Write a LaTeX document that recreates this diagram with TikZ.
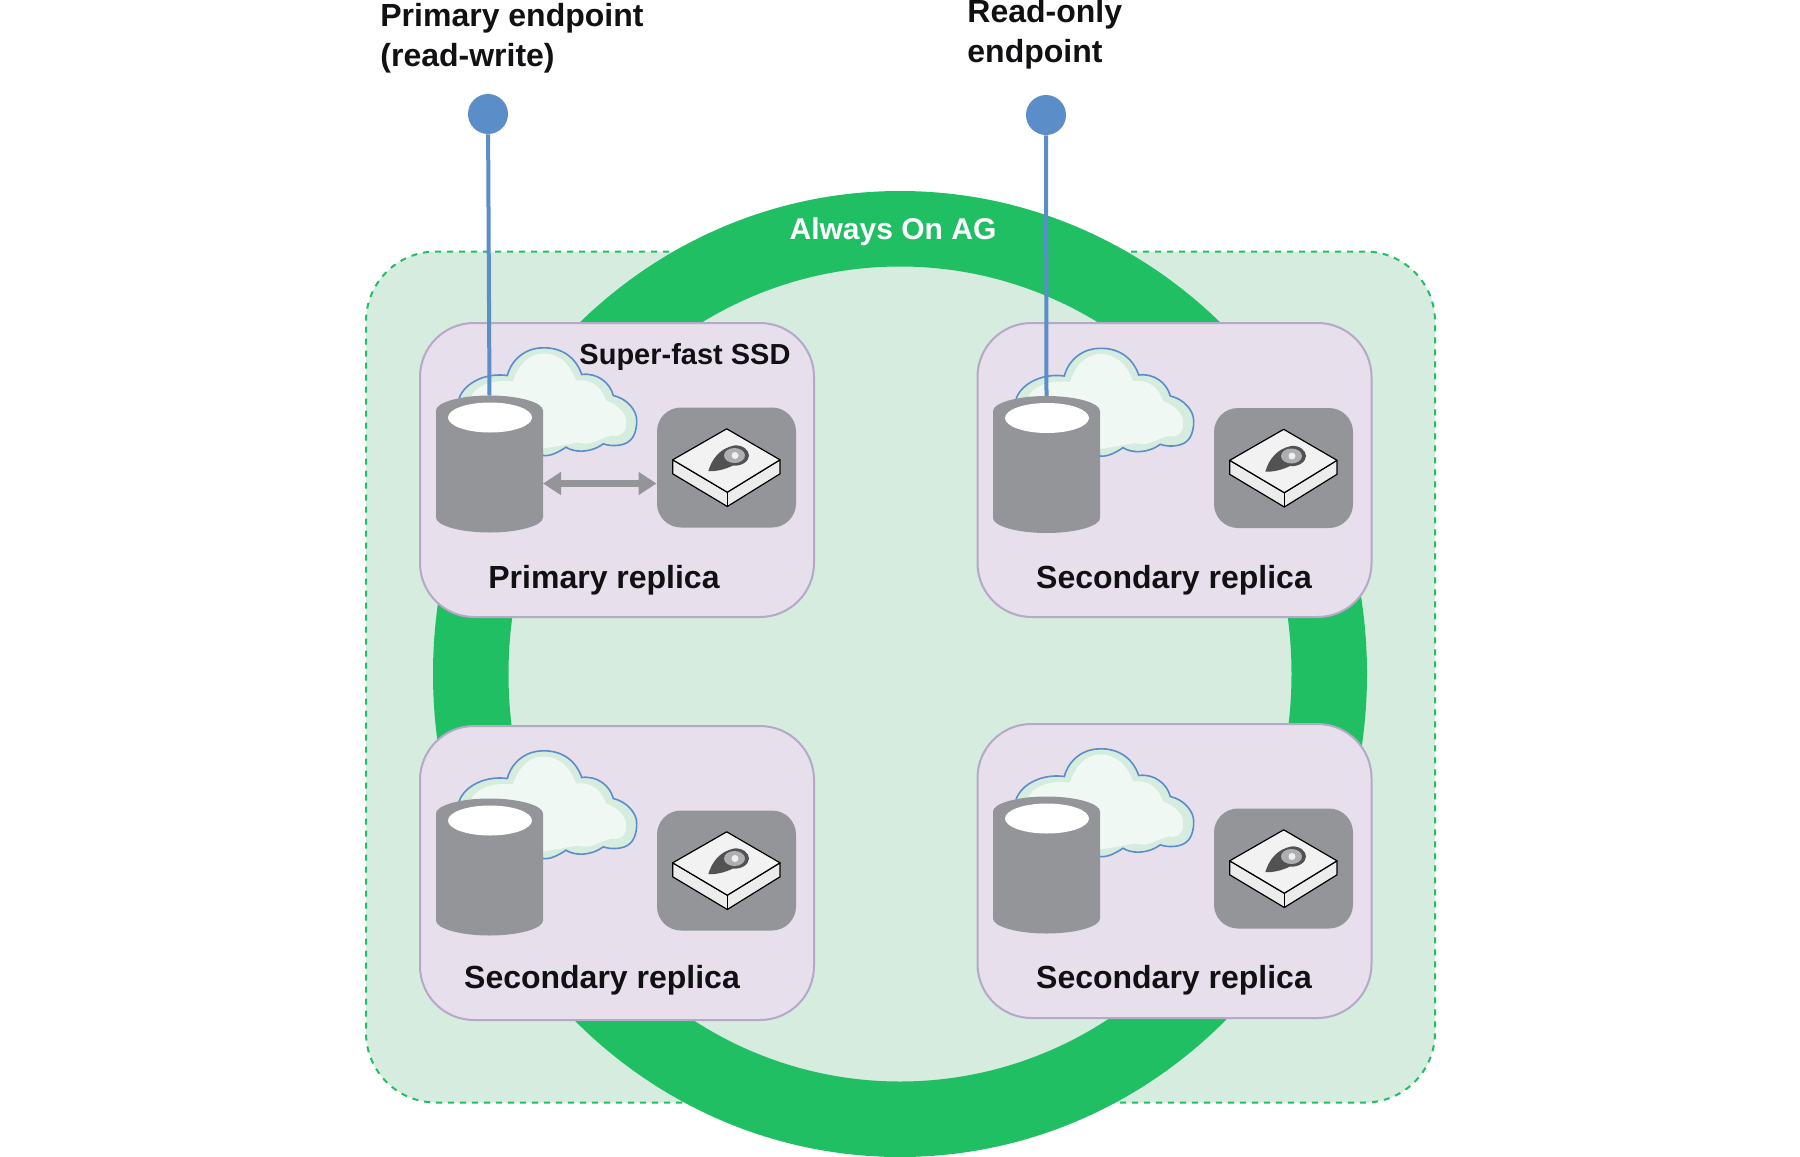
\documentclass[tikz,border=0pt]{standalone}
\usepackage{fontspec}
\setmainfont{Liberation Sans}
\usetikzlibrary{shapes, arrows.meta, positioning}

\definecolor{ringgreen}{HTML}{20BF63}
\definecolor{palegreen}{HTML}{D5ECDF}
\definecolor{replicafill}{HTML}{E8DFEC}
\definecolor{replicaline}{HTML}{B4A9C6}
\definecolor{endblue}{HTML}{5B8DC8}
\definecolor{diskgray}{HTML}{939598}
\definecolor{inktext}{HTML}{111114}

\tikzset{
    replica/.style={draw=replicaline, line width=1pt, fill=replicafill,
        rounded corners=27pt, minimum width=197pt, minimum height=147pt, inner sep=0},
    endpoint/.style={circle, fill=endblue, minimum size=20pt, inner sep=0},
    endline/.style={draw=endblue, line width=2pt},
    bold label/.style={font=\fontsize{16}{19.75}\selectfont\bfseries, text=inktext, align=left, inner sep=0},
    pics/replicaparts/.style={code={
        % cloud behind the cylinder
        \path[draw=endblue, line width=0.8pt, fill=palegreen]
            (39.3,75.3) .. controls (45,60) and (66,50) .. (87.3,53)
            .. controls (92,35) and (108,25) .. (123.3,25.3)
            .. controls (142,25) and (156,35) .. (161.7,52)
            .. controls (177,50) and (190,60) .. (193.3,73)
            .. controls (207,76) and (217,88) .. (216.7,98)
            .. controls (217,108) and (213,116) .. (210,118)
            .. controls (204,124) and (190,124) .. (183.3,121.3)
            .. controls (170,131) and (154,130) .. (146,124.7)
            .. controls (138,130) and (130,134) .. (123.3,133)
            -- (70,133) -- cycle;
        \path[fill=white!65!palegreen]
            (52,72) .. controls (60,60) and (78,57) .. (93,59)
            .. controls (98,42) and (110,31) .. (123,31)
            .. controls (140,31) and (150,42) .. (156,58)
            .. controls (170,56) and (182,64) .. (186,78)
            .. controls (198,82) and (208,92) .. (206,102)
            .. controls (206,110) and (200,115) .. (192,113)
            .. controls (178,116) and (172,124) .. (158,120)
            .. controls (146,122) and (136,124) .. (123,126)
            -- (70,126) -- cycle;
        % database
        \path[fill=diskgray] (16,88) .. controls (16,80) and (40,73) .. (69.5,73)
            .. controls (99,73) and (123,80) .. (123,88) -- (123,195)
            .. controls (123,203) and (99,210) .. (69.5,210)
            .. controls (40,210) and (16,203) .. (16,195) -- cycle;
        \node[inner sep=0, outer sep=0, minimum width=53.5pt, minimum height=68.5pt] (db) at (69.5,141.5) {};
        \node[ellipse, fill=white, inner sep=0, minimum width=42pt, minimum height=15pt] (dbtop) at (70,95) {};
        % disk tile with box on it
        \node[fill=diskgray, rounded corners=12pt, inner sep=0,
            minimum width=69.5pt, minimum height=60pt] (tile) at (306.5,145) {};
        \path[draw=black, line width=0.6pt, fill=white!82!diskgray, line join=round]
            (252.7,137.3) -- (252.7,151.3) -- (307.3,184) -- (360,151.3) -- (360,137.3) -- (307.3,169.7) -- cycle;
        \path[draw=black, line width=0.6pt, fill=white!88!diskgray, line join=round]
            (252.7,137.3) -- (306.7,106.3) -- (360,137.3) -- (307.3,169.7) -- cycle;
        \draw[black, line width=0.6pt] (307.3,169.7) -- (307.3,184);
        \path[fill=black!68] (288.3,148.7) .. controls (292,136) and (300,126) .. (314,123)
            .. controls (323,122) and (329,128) .. (329,133) .. controls (329,139) and (321,144) .. (313,143)
            .. controls (305,147) and (296,149) .. cycle;
        \path[fill=diskgray!75!white] (314.5,133) ellipse [x radius=10.5, y radius=7.5];
        \path[fill=white!85!diskgray] (315,133) ellipse [x radius=3.5, y radius=3.5];
    }}
}

\begin{document}
\begin{tikzpicture}[x=0.5pt, y=-0.5pt]
\useasboundingbox (0,0) rectangle (1800,1157);

% Background and ring
\node[draw=ringgreen, dashed, line width=1pt, fill=palegreen, rounded corners=35pt, inner sep=0,
    minimum width=534.5pt, minimum height=425.5pt] (cluster) at (900.5,677) {};

\begin{scope}
\clip (0,0) rectangle (1800,1157);
\path[fill=ringgreen, even odd rule] (900,674) ellipse [x radius=467, y radius=483]
    (900,674) ellipse [x radius=391.5, y radius=407.5];
\end{scope}

\node[bold label, font=\fontsize{15}{18}\selectfont\bfseries, text=white] (ringlabel) at (893,232) {Always On AG};

% Replicas
\node[replica] (primary) at (617,470) {};
\node[replica] (secondaryA) at (1174.5,470) {};
\node[replica] (secondaryB) at (617,873) {};
\node[replica] (secondaryC) at (1174.5,871) {};

\pic (primary) at (420,322.5) {replicaparts};
\pic (secondaryA) at (977,323) {replicaparts};
\pic (secondaryB) at (420,725.5) {replicaparts};
\pic (secondaryC) at (977,723.5) {replicaparts};

\node[bold label] (primarylabel) at (604,580.5) {Primary replica};
\node[bold label] (secondaryAlabel) at (1174,580.5) {Secondary replica};
\node[bold label] (secondaryBlabel) at (602,980.5) {Secondary replica};
\node[bold label] (secondaryClabel) at (1174,980.5) {Secondary replica};
\node[bold label, font=\fontsize{14.5}{18}\selectfont\bfseries] (ssdlabel) at (685,357) {Super-fast SSD};

% Endpoints
\node[endpoint] (endprimary) at (488,114) {};
\node[endpoint] (endreadonly) at (1046,115) {};

\node[bold label, anchor=base west] (endprimarylabel) at (380,66) {Primary endpoint\\(read-write)};
\node[bold label, anchor=base west] (endreadonlylabel) at (967,62) {Read-only\\endpoint};

% Arrows
\draw[endline] (endprimary) -- (primarydb.north);
\draw[endline] (endreadonly) -- (secondaryAdb.north);
\draw[{Triangle[length=9pt, width=11pt]}-{Triangle[length=9pt, width=11pt]}, diskgray, line width=3.5pt]
    ([yshift=-9.75pt]primarydb.east) -- ([yshift=-8pt]primarytile.west);

\end{tikzpicture}
\end{document}
